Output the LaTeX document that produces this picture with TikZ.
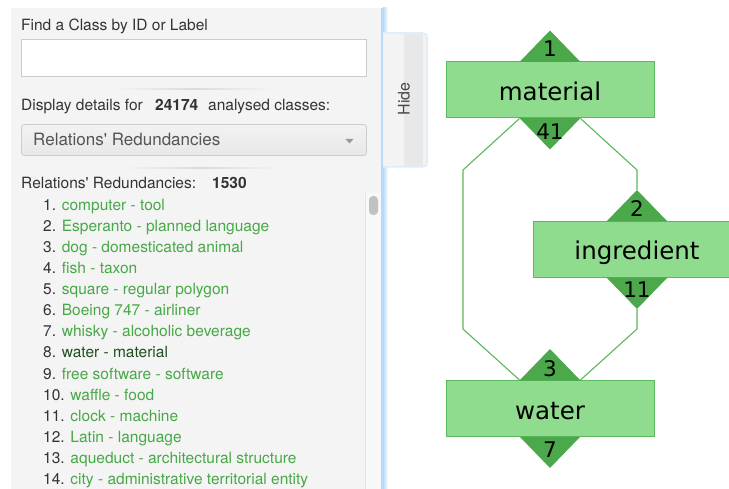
\documentclass[tikz,border=0pt]{standalone}
\usepackage{fontspec}
\newfontfamily\uifont{TeX Gyre Heros}
\newfontfamily\graphfont{DejaVu Sans}
\definecolor{panelbg}{HTML}{F4F4F4}
\definecolor{trackbg}{HTML}{F8F8F8}
\definecolor{trackedge}{HTML}{E3E3E3}
\definecolor{thumb}{HTML}{C1C1C1}
\definecolor{txtgray}{HTML}{333333}
\definecolor{ddtxt}{HTML}{555555}
\definecolor{fieldedge}{HTML}{CCCCCC}
\definecolor{sepgray}{HTML}{DADADA}
\definecolor{bluebar}{HTML}{B8DAF6}
\definecolor{blueglow}{HTML}{DDEDFB}
\definecolor{tabL}{HTML}{F3F3F3}
\definecolor{tabR}{HTML}{E8E8E8}
\definecolor{ddtop}{HTML}{F2F2F2}
\definecolor{itemgreen}{HTML}{47A847}
\definecolor{itemdark}{HTML}{1F4F1F}
\definecolor{boxfill}{HTML}{8FDC8F}
\definecolor{boxedge}{HTML}{5DB95D}
\definecolor{tridark}{HTML}{4BA84B}
\definecolor{linkgreen}{HTML}{5CB85C}
\begin{document}
\begin{tikzpicture}[x=1pt,y=-1pt,
  lbl/.style={anchor=base west, inner sep=0pt, text=txtgray,
    font=\uifont\fontsize{15.5}{18}\selectfont},
  boldlbl/.style={lbl, font=\uifont\bfseries\fontsize{15.5}{18}\selectfont},
  item/.style={lbl},
  box/.style={draw=boxedge, fill=boxfill, line width=1pt, inner sep=0pt,
    minimum width=208pt, minimum height=56pt, text height=21pt, text depth=0pt,
    font=\graphfont\fontsize{24.5}{28}\selectfont},
  tri/.style={fill=tridark},
  num/.style={anchor=base, inner sep=0pt, font=\graphfont\fontsize{21.5}{24}\selectfont},
  link/.style={draw=linkgreen, line width=1.1pt}]
\useasboundingbox (0,0) rectangle (729,489);
\clip (0,0) rectangle (729,489);
\fill[white] (0,0) rectangle (729,489);

% ---------- side panel ----------
\fill[panelbg] (11,8) rectangle (381,489);
\fill[trackbg] (365,193) rectangle (381,489);
\draw[trackedge, line width=0.8pt] (365.4,193) -- (365.4,489);
\fill[thumb, rounded corners=4pt] (369,196) rectangle (378,215);
\shade[left color=bluebar, right color=white] (383,8) rectangle (388,489);
\fill[bluebar] (381,8) rectangle (383.5,489);

% search field
\node[lbl] (findlbl) at (21,31) {Find a Class by ID or Label};
\draw[fieldedge, fill=white, line width=0.8pt] (21.5,39.5) rectangle (366.5,76.5);
\shade[left color=panelbg, right color=panelbg, middle color=sepgray]
  (113,88.5) rectangle (273,89.5);

% class count
\node[lbl] (disp) at (21,111) {Display details for};
\node[boldlbl] (count) at (155,111) {24174};
\node[lbl] (classes) at (208,111) {analysed classes:};

% drop-down
\shadedraw[top color=ddtop, bottom color=tabR, draw=fieldedge,
  line width=0.8pt, rounded corners=3pt] (21.5,124.5) rectangle (366.5,155.5);
\node[anchor=base west, inner sep=0pt, text=ddtxt,
  font=\uifont\fontsize{17}{20}\selectfont] (dd) at (33,146) {Relations' Redundancies};
\fill[gray!80] (345.5,139) -- (353.5,139) -- (349.5,143.5) -- cycle;
\shade[left color=panelbg, right color=panelbg, middle color=sepgray]
  (123,167.5) rectangle (280,168.5);

% list of redundancies
\node[lbl] (rrlbl) at (21,189) {Relations' Redundancies:};
\node[boldlbl] (rrcount) at (212,189) {1530};
\foreach \t [count=\i] in {computer - tool, Esperanto - planned language,
  dog - domesticated animal, fish - taxon, square - regular polygon,
  Boeing 747 - airliner, whisky - alcoholic beverage, water - material,
  free software - software, waffle - food, clock - machine,
  Latin - language, aqueduct - architectural structure,
  city - administrative territorial entity}{
  \ifnum\i=8 \def\ic{itemdark}\else\def\ic{itemgreen}\fi
  \node[item] (item\i) at (43,{211+21*(\i-1)}) {\i. \textcolor{\ic}{\t}};
}

% hide tab
\path[draw=blueglow, line width=1.5pt, fill=tabL, rounded corners=4pt]
  (383,33) -- (427,33) -- (427,167) -- (383,167);
\fill[tabR] (404,34) rectangle (423,166);
\node[rotate=90, inner sep=0pt, text=txtgray!90,
  font=\uifont\fontsize{16}{18}\selectfont] (hide) at (404,99) {Hide};

% ---------- redundancy graph ----------
\node[box] (mat) at (550,90) {material};
\node[box] (ing) at (637,249.5) {ingredient};
\node[box] (wat) at (550,408.5) {water};

% corner points of the count markers
\foreach \b in {mat,ing,wat}{
  \coordinate (\b-tl) at ([xshift=-30.5pt]\b.north);
  \coordinate (\b-tr) at ([xshift=30.5pt]\b.north);
  \coordinate (\b-tt) at ([yshift=31pt]\b.north);
  \coordinate (\b-bl) at ([xshift=-30.5pt]\b.south);
  \coordinate (\b-br) at ([xshift=30.5pt]\b.south);
  \coordinate (\b-bb) at ([yshift=-31pt]\b.south);
  \fill[tri] ([yshift=-0.5pt]\b-tl) -- (\b-tt) -- ([yshift=-0.5pt]\b-tr) -- cycle;
  \fill[tri] ([yshift=0.5pt]\b-bl) -- (\b-bb) -- ([yshift=0.5pt]\b-br) -- cycle;
}

% counts
\node[num] (mat-in)  at (550,57)  {1};
\node[num] (mat-out) at (550,140) {41};
\node[num] (ing-in)  at (637,217) {2};
\node[num] (ing-out) at (637,298) {11};
\node[num] (wat-in)  at (550,377) {3};
\node[num] (wat-out) at (550,457) {7};

% connectors
\draw[link] (mat-bl) -- (463,170) -- (463,329) -- (wat-tl);
\draw[link] (mat-br) -- (637,170) -- (ing-tt);
\draw[link] (ing-bb) -- (637,329) -- (wat-tr);
\end{tikzpicture}
\end{document}
